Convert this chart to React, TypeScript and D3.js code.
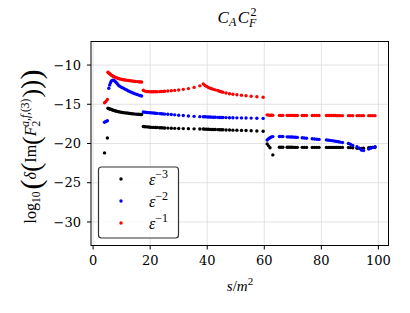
import React from "react";
import * as d3 from "d3";

// ---- data ----
const sEarly = [4.0, 4.5, 5.0];
const sSeg1 = [5.2, 5.5, 5.8, 6.1, 6.4, 6.7, 7.0, 7.3, 7.6, 8.0, 8.4, 8.8, 9.2, 9.7, 10.2, 10.7, 11.2, 11.8, 12.4, 13.0, 13.6, 14.2, 14.8, 15.4, 16.0, 16.5, 17.0];
const sSeg2 = [17.6, 18.2, 18.8, 19.4, 20.0, 20.6, 21.2, 21.8, 22.4, 23.3, 23.9, 24.5, 25.1, 26.2, 27.4, 28.6, 30.0, 31.6, 33.4, 35.4, 37.4, 38.6, 39.2, 39.8, 40.4, 41.0, 41.6, 42.2, 42.8, 43.7, 44.3, 44.9, 45.5, 46.6, 47.8, 49.0, 50.4, 52.0, 53.6, 55.4, 57.4, 59.6];
const sSeg3 = [61.0, 61.5, 62.0, 62.5, 63.0, 65.3, 65.9, 66.5, 68.0, 68.6, 69.2, 69.8, 70.4, 71.0, 71.6, 73.3, 74.0, 74.8, 76.8, 77.6, 78.4, 79.2, 81.8, 82.4, 83.0, 83.6, 84.2, 84.8, 85.4, 86.0, 86.6, 87.4, 89.5, 90.2, 91.0, 92.5, 93.3, 94.1, 94.8, 96.6, 97.3, 98.0, 98.8];

// eps^-3 (black)
const m3Early = [-21.2, null, -19.3];
const m3Seg1 = [-15.5, -15.55, -15.6, -15.64, -15.67, -15.71, -15.75, -15.78, -15.82, -15.86, -15.9, -15.94, -15.97, -16.0, -16.04, -16.07, -16.1, -16.12, -16.15, -16.18, -16.2, -16.23, -16.25, -16.27, -16.28, -16.3, -16.31];
const m3Seg2 = [-17.83, -17.86, -17.88, -17.9, -17.92, -17.94, -17.95, -17.96, -17.97, -17.99, -18.0, -18.01, -18.02, -18.04, -18.05, -18.07, -18.08, -18.1, -18.11, -18.13, -18.15, -18.16, -18.17, -18.18, -18.19, -18.2, -18.21, -18.22, -18.22, -18.23, -18.24, -18.25, -18.25, -18.27, -18.28, -18.3, -18.31, -18.33, -18.35, -18.37, -18.4, -18.43];
const m3Seg3 = [-20.05, -20.3, -20.55, null, -21.45, -20.47, -20.47, -20.47, -20.48, -20.48, -20.48, -20.48, -20.49, -20.49, -20.49, -20.49, -20.5, -20.5, -20.5, -20.5, -20.5, -20.5, -20.5, -20.5, -20.5, -20.5, -20.5, -20.5, -20.5, -20.5, -20.5, -20.5, -20.52, -20.53, -20.55, -20.6, -20.62, -20.62, -20.6, -20.52, -20.5, -20.5, -20.48];

// eps^-2 (blue)
const m2Early = [-17.3, -17.2, -17.1];
const m2Seg1 = [null, -12.95, -12.55, -12.25, -12.05, -11.95, -11.92, -11.95, -12.05, -12.2, -12.35, -12.55, -12.68, -12.78, -12.88, -12.97, -13.07, -13.18, -13.3, -13.41, -13.5, -13.6, -13.68, -13.76, -13.83, -13.89, -13.94];
const m2Seg2 = [-15.98, -16.02, -16.04, -16.06, -16.08, -16.1, -16.12, -16.14, -16.16, -16.19, -16.21, -16.23, -16.25, -16.28, -16.31, -16.35, -16.39, -16.44, -16.49, -16.54, -16.58, -16.6, -16.6, -16.61, -16.62, -16.63, -16.64, -16.65, -16.66, -16.67, -16.68, -16.68, -16.69, -16.7, -16.71, -16.72, -16.73, -16.74, -16.75, -16.76, -16.78, -16.8];
const m2Seg3 = [-19.55, -19.4, -19.27, -19.18, -19.12, -19.1, -19.1, -19.11, -19.15, -19.16, -19.17, -19.18, -19.19, -19.2, -19.22, -19.27, -19.3, -19.33, -19.4, -19.43, -19.46, -19.48, -19.54, -19.57, -19.6, -19.63, -19.66, -19.7, -19.73, -19.77, -19.82, -19.88, -20.0, -20.1, -20.25, -20.4, -20.6, -20.85, -20.9, -20.7, -20.6, -20.5, -20.42];

// eps^-1 (red)
const m1Early = [-14.8, -14.65, -14.4];
const m1Seg1 = [-10.92, -11.02, -11.11, -11.2, -11.28, -11.35, -11.42, -11.48, -11.53, -11.6, -11.66, -11.71, -11.75, -11.8, -11.84, -11.88, -11.91, -11.94, -11.97, -12.01, -12.04, -12.07, -12.09, -12.11, -12.13, -12.15, -12.16];
const m1Seg2 = [-13.22, -13.32, -13.37, -13.39, -13.4, -13.4, -13.4, -13.4, -13.4, -13.39, -13.38, -13.36, -13.34, -13.31, -13.28, -13.23, -13.18, -13.1, -13.0, -12.85, -12.65, -12.4, -12.6, -12.72, -12.85, -12.95, -13.02, -13.1, -13.16, -13.25, -13.35, -13.41, -13.46, -13.57, -13.66, -13.72, -13.78, -13.86, -13.92, -13.97, -14.04, -14.1];
const m1Seg3 = [-16.35, -16.38, -16.4, -16.4, -16.4, -16.42, -16.42, -16.42, -16.42, -16.42, -16.42, -16.42, -16.43, -16.43, -16.43, -16.43, -16.43, -16.43, -16.44, -16.44, -16.44, -16.44, -16.44, -16.44, -16.44, -16.44, -16.44, -16.44, -16.45, -16.45, -16.45, -16.45, -16.45, -16.45, -16.45, -16.45, -16.45, -16.45, -16.45, -16.45, -16.45, -16.45, -16.45];

const xTicks = [0, 20, 40, 60, 80, 100];
const yTicks = [-10, -15, -20, -25, -30];
const seriesNames = ["-3", "-2", "-1"];
const seriesColors = ["#000000", "#0000ff", "#ff0000"];

type Pt = { s: number; v: number };
function build(parts: [number[], (number | null)[]][]): Pt[] {
  const out: Pt[] = [];
  parts.forEach(([ss, vv]) => {
    ss.forEach((s, i) => {
      const v = vv[i];
      if (v !== null && v !== undefined) out.push({ s, v });
    });
  });
  return out;
}

const series: Pt[][] = [
  build([[sEarly, m3Early], [sSeg1, m3Seg1], [sSeg2, m3Seg2], [sSeg3, m3Seg3]]),
  build([[sEarly, m2Early], [sSeg1, m2Seg1], [sSeg2, m2Seg2], [sSeg3, m2Seg3]]),
  build([[sEarly, m1Early], [sSeg1, m1Seg1], [sSeg2, m1Seg2], [sSeg3, m1Seg3]]),
];

const W = 410, H = 313;
const L = 91, R = 388.5, T = 41.5, B = 245.5;
const FONT = '"Liberation Serif", "DejaVu Serif", "Times New Roman", serif';
const TICKFONT = '"DejaVu Serif", "Liberation Serif", serif';

type Piece = { t: string; size: number; off: number; italic?: boolean; dx?: number };
function MathText({ pieces }: { pieces: Piece[] }) {
  let prev = 0;
  return (
    <>
      {pieces.map((p, i) => {
        const dy = p.off - prev;
        prev = p.off;
        return (
          <tspan key={i} dy={dy} dx={p.dx || 0} style={{ fontSize: p.size + "px", fontStyle: p.italic ? "italic" : "normal", fontFamily: FONT }}>
            {p.t}
          </tspan>
        );
      })}
    </>
  );
}

const txt = (size: number, fam = FONT) => ({ fontFamily: fam, fontSize: size + "px" });

export default function App() {
  const x = d3.scaleLinear().domain([-0.74, 103.54]).range([L, R]);
  const y = d3.scaleLinear().domain([-33, -7]).range([B, T]);
  const tickLen = 4;

  const ylabel: Piece[] = [
    { t: "log", size: 16, off: 0 },
    { t: "10", size: 11.5, off: 4 },
    { t: "(", size: 30, off: 4.5, dx: 2 },
    { t: "δ", size: 16, off: 0, italic: true },
    { t: "(", size: 28, off: 4 },
    { t: "Im", size: 16, off: 0 },
    { t: "(", size: 26, off: 3.5 },
    { t: "F", size: 16, off: 0, italic: true },
    { t: "2", size: 11.5, off: 4 },
    { t: "a,f,", size: 11.5, off: -7, italic: true, dx: -6 },
    { t: "(3)", size: 11.5, off: -7 },
    { t: ")", size: 26, off: 3.5, dx: 1 },
    { t: ")", size: 28, off: 4 },
    { t: ")", size: 30, off: 4.5 },
  ];

  return (
    <svg width={W} height={H} style={{ position: "absolute", left: 0, top: 0, background: "#fff", fontFamily: FONT }}>
      <rect x={0} y={0} width={W} height={H} fill="#fff" />
      {xTicks.map((t) => (
        <line key={"gx" + t} x1={x(t)} x2={x(t)} y1={T} y2={B} stroke="#dcdcdc" strokeWidth={0.8} />
      ))}
      {yTicks.map((t) => (
        <line key={"gy" + t} x1={L} x2={R} y1={y(t)} y2={y(t)} stroke="#dcdcdc" strokeWidth={0.8} />
      ))}
      {series.map((pts, si) => (
        <g key={si} fill={seriesColors[si]}>
          {pts.map((p, i) => (
            <circle key={i} cx={x(p.s)} cy={y(p.v)} r={1.7} />
          ))}
        </g>
      ))}
      <rect x={L} y={T} width={R - L} height={B - T} fill="none" stroke="#000" strokeWidth={1} />
      {xTicks.map((t) => (
        <g key={"xt" + t}>
          <line x1={x(t)} x2={x(t)} y1={B} y2={B + tickLen} stroke="#000" strokeWidth={1} />
          <text x={x(t)} y={B + 19.5} textAnchor="middle" style={txt(13, TICKFONT)} fontWeight={300}>{String(t)}</text>
        </g>
      ))}
      {yTicks.map((t) => (
        <g key={"yt" + t}>
          <line x1={L - tickLen} x2={L} y1={y(t)} y2={y(t)} stroke="#000" strokeWidth={1} />
          <text x={L - 10} y={y(t) + 4.7} textAnchor="end" style={txt(13, TICKFONT)} fontWeight={300}>{"\u2212" + Math.abs(t)}</text>
        </g>
      ))}
      <text x={237} y={23} textAnchor="middle" style={txt(17)}>
        <MathText
          pieces={[
            { t: "C", size: 17, off: 0, italic: true },
            { t: "A", size: 12, off: 3, italic: true },
            { t: "C", size: 17, off: 0, italic: true, dx: 1.5 },
            { t: "F", size: 12, off: 4, italic: true },
            { t: "2", size: 12, off: -7, dx: -6 },
          ]}
        />
      </text>
      <text x={240} y={291} textAnchor="middle" style={txt(15)}>
        <MathText
          pieces={[
            { t: "s", size: 15, off: 0, italic: true },
            { t: "/", size: 15, off: 0 },
            { t: "m", size: 15, off: 0, italic: true },
            { t: "2", size: 11, off: -6.5 },
          ]}
        />
      </text>
      <text transform={`translate(36,${(T + B) / 2 + 3}) rotate(-90)`} textAnchor="middle" style={txt(16)}>
        <MathText pieces={ylabel} />
      </text>
      <rect x={98.5} y={167} width={80} height={71} rx={3} ry={3} fill="#fff" fillOpacity={0.85} stroke="#333" strokeWidth={1.2} />
      {seriesNames.map((n, i) => (
        <g key={"lg" + i}>
          <circle cx={121} cy={179 + i * 22} r={1.7} fill={seriesColors[i]} />
          <text x={149} y={184.5 + i * 22} style={txt(16)}>
            <MathText
              pieces={[
                { t: "ε", size: 16, off: 0, italic: true },
                { t: "\u2212" + n.replace("-", ""), size: 12, off: -7 },
              ]}
            />
          </text>
        </g>
      ))}
    </svg>
  );
}
